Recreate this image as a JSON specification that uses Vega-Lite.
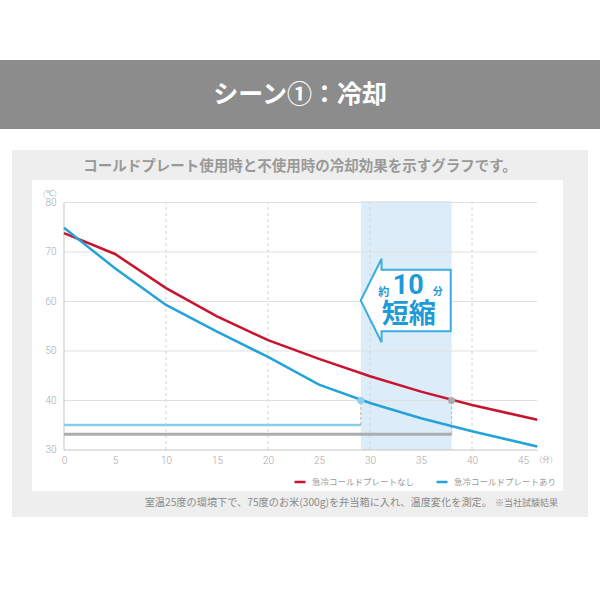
{
  "$schema": "https://vega.github.io/schema/vega-lite/v6.json",
  "background": "white",
  "padding": {"top": 60, "left": 0, "right": 0, "bottom": 0},
  "spacing": 21,
  "center": true,
  "datasets": {
    "curves": [
      {"series": "急冷コールドプレートなし", "t": 0, "v": 73.8},
      {"series": "急冷コールドプレートなし", "t": 5, "v": 69.6},
      {"series": "急冷コールドプレートなし", "t": 10, "v": 62.7},
      {"series": "急冷コールドプレートなし", "t": 15, "v": 57.0},
      {"series": "急冷コールドプレートなし", "t": 20, "v": 52.2},
      {"series": "急冷コールドプレートなし", "t": 25, "v": 48.4},
      {"series": "急冷コールドプレートなし", "t": 30, "v": 44.9},
      {"series": "急冷コールドプレートなし", "t": 35, "v": 41.8},
      {"series": "急冷コールドプレートなし", "t": 40, "v": 39.1},
      {"series": "急冷コールドプレートなし", "t": 46.4, "v": 36.1},
      {"series": "急冷コールドプレートあり", "t": 0, "v": 74.9},
      {"series": "急冷コールドプレートあり", "t": 5, "v": 66.7},
      {"series": "急冷コールドプレートあり", "t": 10, "v": 59.3},
      {"series": "急冷コールドプレートあり", "t": 15, "v": 53.9},
      {"series": "急冷コールドプレートあり", "t": 20, "v": 48.8},
      {"series": "急冷コールドプレートあり", "t": 25, "v": 43.2},
      {"series": "急冷コールドプレートあり", "t": 30, "v": 39.5},
      {"series": "急冷コールドプレートあり", "t": 35, "v": 36.4},
      {"series": "急冷コールドプレートあり", "t": 40, "v": 33.8},
      {"series": "急冷コールドプレートあり", "t": 46.4, "v": 30.7}
    ],
    "marks": [
      {"series": "急冷コールドプレートあり", "t": 29.1, "v": 40, "base": 35.05},
      {"series": "急冷コールドプレートなし", "t": 38.0, "v": 40, "base": 33.2}
    ],
    "refs": [
      {"series": "急冷コールドプレートあり", "t": 0, "t2": 29.1, "v": 35.05},
      {"series": "急冷コールドプレートなし", "t": 0, "t2": 38.0, "v": 33.2}
    ],
    "band": [{"t": 29.1, "t2": 38.0, "v": 30, "v2": 80.3}],
    "hgrid": [
      {"t": 0, "t2": 46.4, "v": 40},
      {"t": 0, "t2": 46.4, "v": 50},
      {"t": 0, "t2": 46.4, "v": 60},
      {"t": 0, "t2": 46.4, "v": 70},
      {"t": 0, "t2": 46.4, "v": 80}
    ],
    "vgrid": [
      {"t": 10, "v": 30, "v2": 80},
      {"t": 20, "v": 30, "v2": 80},
      {"t": 30, "v": 30, "v2": 80},
      {"t": 40, "v": 30, "v2": 80}
    ],
    "axes": [
      {"t": 0, "t2": 46.4, "v": 30, "v2": 30},
      {"t": 0, "t2": 0, "v": 30, "v2": 80}
    ],
    "note": [{"t": 33.5, "v": 60.2}]
  },
  "vconcat": [
    {
      "width": 600,
      "height": 69,
      "view": {"fill": "#8c8c8c", "stroke": null},
      "data": {"values": [{"label": "シーン①：冷却"}]},
      "mark": {"type": "text", "color": "white", "fontSize": 25, "fontWeight": "bold", "font": "Noto Sans CJK JP"},
      "encoding": {"text": {"field": "label"}}
    },
    {
      "spacing": 0,
      "vconcat": [
        {
          "width": 576,
          "height": 30,
          "view": {"fill": "#eeeeee", "stroke": null},
          "data": {"values": [{"label": "コールドプレート使用時と不使用時の冷却効果を示すグラフです。"}]},
          "mark": {"type": "text", "color": "#999999", "fontSize": 14.5, "fontWeight": "bold", "dy": 2, "font": "Noto Sans CJK JP"},
          "encoding": {"text": {"field": "label"}}
        },
        {
          "spacing": 0,
          "hconcat": [
            {
              "width": 20,
              "height": 311,
              "view": {"fill": "#eeeeee", "stroke": null},
              "data": {"values": [{}]},
              "mark": {"type": "text", "text": ""},
              "encoding": {}
            },
            {
              "width": 531,
              "height": 311,
              "view": {"fill": "white", "stroke": null},
              "layer": [
                {
                  "data": {"name": "band"},
                  "mark": {"type": "rect", "color": "#dcedf9"},
                  "encoding": {
                    "x": {"field": "t", "type": "quantitative"},
                    "x2": {"field": "t2"},
                    "y": {"field": "v", "type": "quantitative"},
                    "y2": {"field": "v2"}
                  }
                },
                {
                  "data": {"name": "hgrid"},
                  "mark": {"type": "rule", "color": "#e0e0e0", "strokeWidth": 1},
                  "encoding": {
                    "x": {"field": "t", "type": "quantitative"},
                    "x2": {"field": "t2"},
                    "y": {"field": "v", "type": "quantitative"}
                  }
                },
                {
                  "data": {"name": "vgrid"},
                  "mark": {"type": "rule", "color": "#d4d4d4", "strokeWidth": 1, "strokeDash": [3, 3]},
                  "encoding": {
                    "x": {"field": "t", "type": "quantitative"},
                    "y": {"field": "v", "type": "quantitative"},
                    "y2": {"field": "v2"}
                  }
                },
                {
                  "data": {"name": "axes"},
                  "mark": {"type": "rule", "color": "#c4c4c4", "strokeWidth": 1},
                  "encoding": {
                    "x": {"field": "t", "type": "quantitative"},
                    "x2": {"field": "t2"},
                    "y": {"field": "v", "type": "quantitative"},
                    "y2": {"field": "v2"}
                  }
                },
                {
                  "data": {"name": "refs"},
                  "transform": [{"filter": "datum.series === '急冷コールドプレートなし'"}],
                  "mark": {"type": "rule", "color": "#acacac", "strokeWidth": 3},
                  "encoding": {
                    "x": {"field": "t", "type": "quantitative"},
                    "x2": {"field": "t2"},
                    "y": {"field": "v", "type": "quantitative"}
                  }
                },
                {
                  "data": {"name": "refs"},
                  "transform": [{"filter": "datum.series === '急冷コールドプレートあり'"}],
                  "mark": {"type": "rule", "color": "#86cdea", "strokeWidth": 2.5},
                  "encoding": {
                    "x": {"field": "t", "type": "quantitative"},
                    "x2": {"field": "t2"},
                    "y": {"field": "v", "type": "quantitative"}
                  }
                },
                {
                  "data": {"name": "marks"},
                  "mark": {"type": "rule", "color": "#b4b4b4", "strokeWidth": 1, "strokeDash": [3, 2]},
                  "encoding": {
                    "x": {"field": "t", "type": "quantitative"},
                    "y": {"field": "base", "type": "quantitative"},
                    "y2": {"field": "v"}
                  }
                },
                {
                  "data": {"name": "curves"},
                  "mark": {"type": "line", "strokeWidth": 2.5},
                  "encoding": {
                    "x": {
                      "field": "t",
                      "type": "quantitative",
                      "scale": {"domain": [-3.137, 48.92], "nice": false, "zero": false},
                      "axis": {
                        "orient": "bottom",
                        "offset": -41,
                        "domain": false,
                        "ticks": false,
                        "grid": false,
                        "title": null,
                        "values": [0, 5, 10, 15, 20, 25, 30, 35, 40, 45, 47.2],
                        "labelExpr": "datum.value > 46 ? '(分)' : datum.label",
                        "labelFont": "Roboto",
                        "labelFontWeight": 300,
                        "labelFontSize": {"condition": {"test": "datum.value > 46", "value": 8}, "value": 10},
                        "labelColor": "#a8a8a8",
                        "labelPadding": 5,
                        "labelFlush": false,
                        "labelOverlap": false
                      }
                    },
                    "y": {
                      "field": "v",
                      "type": "quantitative",
                      "scale": {"domain": [21.717, 84.545], "nice": false, "zero": false},
                      "axis": {
                        "orient": "left",
                        "offset": -32,
                        "domain": false,
                        "ticks": false,
                        "grid": false,
                        "title": null,
                        "values": [30, 40, 50, 60, 70, 80, 81.9],
                        "labelExpr": "datum.value > 81 ? '(℃)' : datum.label",
                        "labelFont": "Roboto",
                        "labelFontWeight": 300,
                        "labelFontSize": {"condition": {"test": "datum.value > 81", "value": 8}, "value": 10},
                        "labelColor": "#a8a8a8",
                        "labelPadding": 8,
                        "labelFlush": false,
                        "labelOverlap": false
                      }
                    },
                    "color": {
                      "field": "series",
                      "type": "nominal",
                      "scale": {
                        "domain": ["急冷コールドプレートなし", "急冷コールドプレートあり"],
                        "range": ["#c8142f", "#25a3d9"]
                      },
                      "legend": {
                        "orient": "none",
                        "legendX": 293,
                        "legendY": 415,
                        "direction": "horizontal",
                        "title": null,
                        "padding": 0,
                        "symbolType": "stroke",
                        "symbolSize": 121,
                        "symbolStrokeWidth": 2.5,
                        "labelFont": "Noto Sans CJK JP",
                        "labelFontSize": 8.5,
                        "labelColor": "#999999",
                        "labelOffset": 5,
                        "columnPadding": 16
                      }
                    }
                  }
                },
                {
                  "data": {"name": "marks"},
                  "transform": [{"filter": "datum.series === '急冷コールドプレートあり'"}],
                  "mark": {"type": "circle", "size": 50, "color": "#8ccfec", "opacity": 1},
                  "encoding": {
                    "x": {"field": "t", "type": "quantitative"},
                    "y": {"field": "v", "type": "quantitative"}
                  }
                },
                {
                  "data": {"name": "marks"},
                  "transform": [{"filter": "datum.series === '急冷コールドプレートなし'"}],
                  "mark": {"type": "circle", "size": 50, "color": "#acacac", "opacity": 1},
                  "encoding": {
                    "x": {"field": "t", "type": "quantitative"},
                    "y": {"field": "v", "type": "quantitative"}
                  }
                },
                {
                  "data": {"name": "note"},
                  "mark": {
                    "type": "point",
                    "shape": "M-1,0L-0.537,-0.927L-0.537,-0.682L1,-0.682L1,0.682L-0.537,0.682L-0.537,0.927Z",
                    "size": 8100,
                    "filled": true,
                    "fill": "white",
                    "stroke": "#3aaee0",
                    "strokeWidth": 2,
                    "opacity": 1,
                    "fillOpacity": 1,
                    "strokeOpacity": 1
                  },
                  "encoding": {
                    "x": {"field": "t", "type": "quantitative"},
                    "y": {"field": "v", "type": "quantitative"}
                  }
                },
                {
                  "data": {"name": "note"},
                  "mark": {"type": "text", "text": "約", "fontSize": 11, "fontWeight": "bold", "color": "#1e9ad6", "dx": -22, "dy": -7.5},
                  "encoding": {
                    "x": {"field": "t", "type": "quantitative"},
                    "y": {"field": "v", "type": "quantitative"}
                  }
                },
                {
                  "data": {"name": "note"},
                  "mark": {"type": "text", "text": "10", "font": "Roboto", "fontSize": 27, "fontWeight": "bold", "color": "#1e9ad6", "dx": 2.5, "dy": -14.5},
                  "encoding": {
                    "x": {"field": "t", "type": "quantitative"},
                    "y": {"field": "v", "type": "quantitative"}
                  }
                },
                {
                  "data": {"name": "note"},
                  "mark": {"type": "text", "text": "分", "fontSize": 10, "fontWeight": "bold", "color": "#1e9ad6", "dx": 32, "dy": -9},
                  "encoding": {
                    "x": {"field": "t", "type": "quantitative"},
                    "y": {"field": "v", "type": "quantitative"}
                  }
                },
                {
                  "data": {"name": "note"},
                  "mark": {"type": "text", "text": "短縮", "fontSize": 27, "fontWeight": "bold", "color": "#1e9ad6", "dx": 3, "dy": 14},
                  "encoding": {
                    "x": {"field": "t", "type": "quantitative"},
                    "y": {"field": "v", "type": "quantitative"}
                  }
                }
              ]
            },
            {
              "width": 25,
              "height": 311,
              "view": {"fill": "#eeeeee", "stroke": null},
              "data": {"values": [{}]},
              "mark": {"type": "text", "text": ""},
              "encoding": {}
            }
          ]
        },
        {
          "width": 576,
          "height": 26,
          "view": {"fill": "#eeeeee", "stroke": null},
          "data": {"values": [{"main": "室温25度の環境下で、75度のお米(300g)を弁当箱に入れ、温度変化を測定。", "sub": "※当社試験結果"}]},
          "layer": [
            {
              "mark": {"type": "text", "align": "right", "dx": 192, "dy": -1, "fontSize": 10.2, "color": "#8a8a8a"},
              "encoding": {"text": {"field": "main"}}
            },
            {
              "mark": {"type": "text", "align": "left", "dx": 195, "dy": -1, "fontSize": 9, "color": "#8a8a8a"},
              "encoding": {"text": {"field": "sub"}}
            }
          ]
        }
      ]
    }
  ],
  "config": {
    "view": {"stroke": null},
    "font": "Noto Sans CJK JP"
  }
}
